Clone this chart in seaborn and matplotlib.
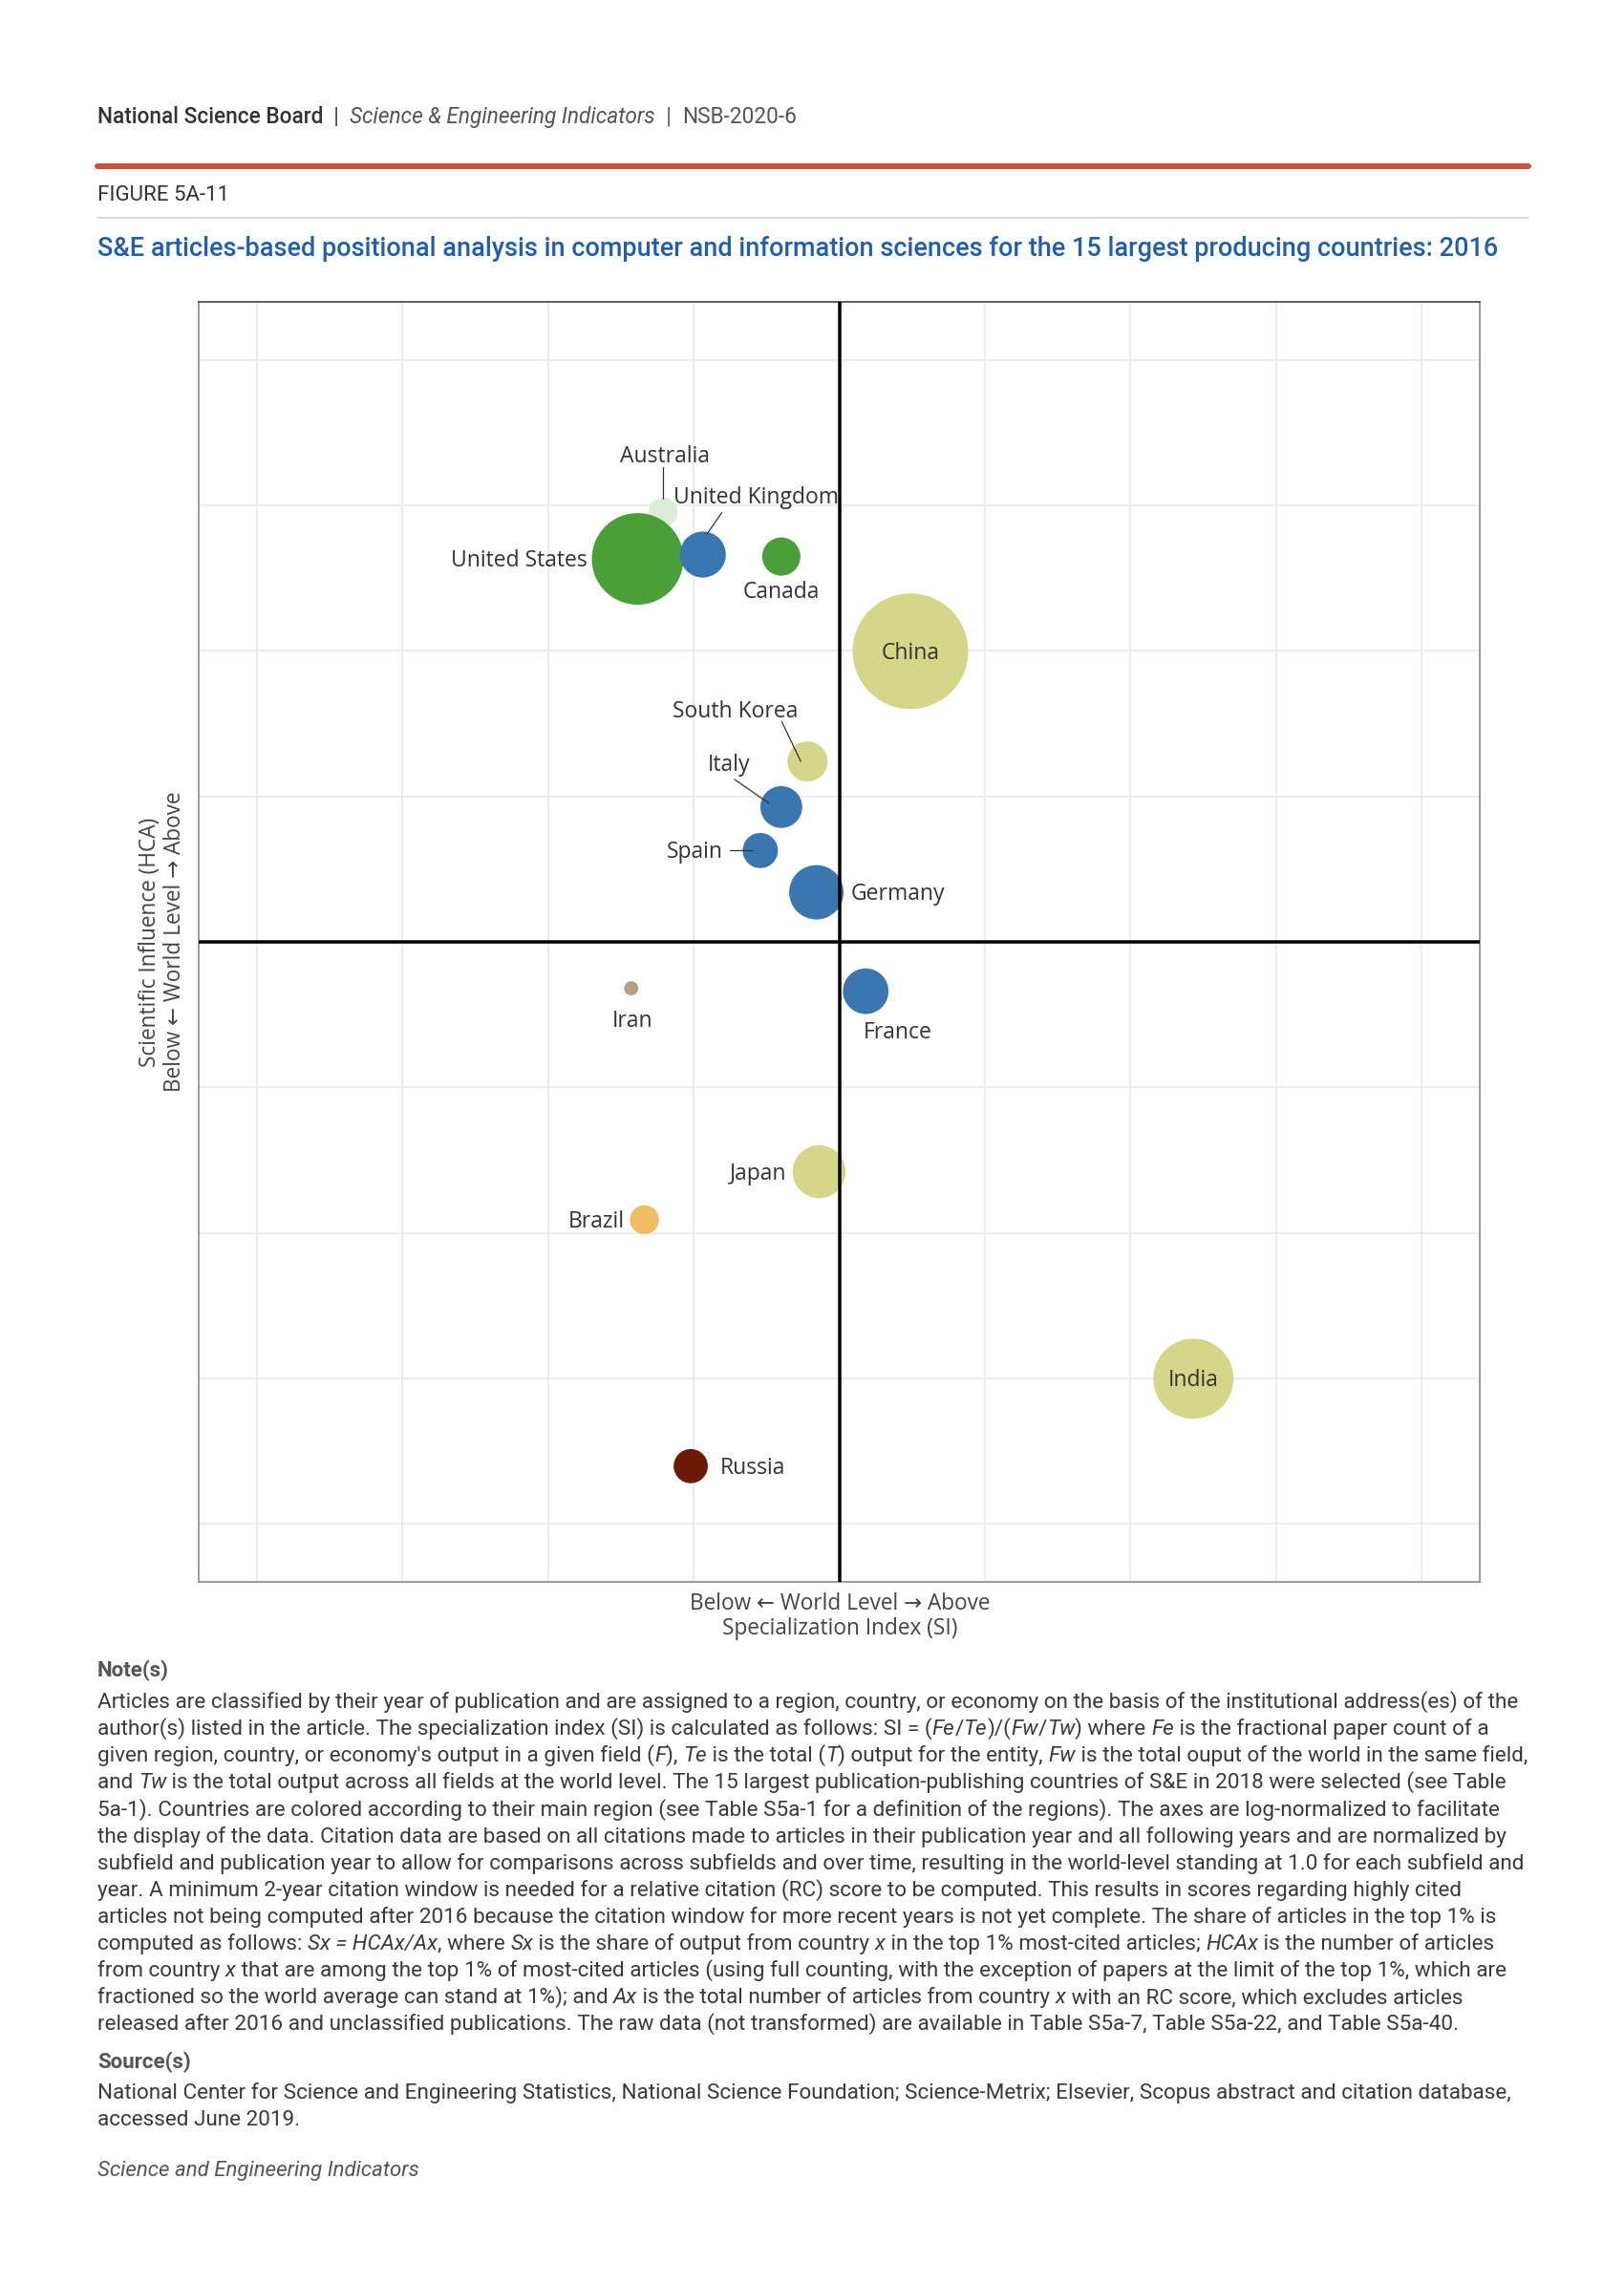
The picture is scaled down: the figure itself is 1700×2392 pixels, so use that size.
import numpy as np
import pandas as pd
import seaborn as sns
import matplotlib.pyplot as plt

sns.set_theme(style="white")
plt.rcParams["font.family"] = ["Open Sans", "DejaVu Sans"]

W, H, DPI = 1700, 2392, 100

# ---- data ----
countries = ["Australia", "United States", "United Kingdom", "Canada", "China",
             "South Korea", "Italy", "Spain", "Germany", "Iran", "France",
             "Japan", "Brazil", "Russia", "India"]
regions = ["Australia", "North America", "Europe", "North America", "Asia",
           "Asia", "Europe", "Europe", "Europe", "Middle East", "Europe",
           "Asia", "South America", "Russia", "Asia"]
# log-normalized specialization index (x) and scientific influence (y)
si = [-1.21, -1.385, -0.937, -0.398, 0.489, -0.218, -0.398, -0.542, -0.157,
      -1.429, 0.182, -0.138, -1.338, -1.02, 2.433]
hca = [2.955, 2.633, 2.663, 2.649, 1.998, 1.24, 0.927, 0.628, 0.341,
       -0.319, -0.339, -1.58, -1.91, -3.604, -3.003]
# bubble size ~ article output (relative)
articles = [2.3, 23.0, 5.8, 4.0, 36.6, 4.4, 4.8, 3.4, 8.1, 0.55, 5.7, 7.7,
            2.3, 3.2, 17.6]

region_colors = {
    "North America": "#4b9f38",
    "Europe": "#3a76b0",
    "Asia": "#d4d78a",
    "Australia": "#dbecd8",
    "Middle East": "#b5a082",
    "South America": "#f0bc62",
    "Russia": "#6b1a06",
}

df = pd.DataFrame({"country": countries, "region": regions, "si": si,
                   "hca": hca, "articles": articles})

# label placement: (dx px, dy px, ha, connector start px, connector end px)
label_layout = {
    "Australia": (2, -60, "center", (0, -47), (0, -14)),
    "United Kingdom": (56, -62, "center", (20, -44), (4, -21)),
    "United States": (-53, 0, "right", None, None),
    "Canada": (0, 35, "center", None, None),
    "China": (0, 0, "center", None, None),
    "South Korea": (-76, -54, "center", (-27, -42), (-7, 0)),
    "Italy": (-55, -46, "center", (-49, -29), (-13, -4)),
    "Spain": (-39, 0, "right", (-32, 0), (-9, 0)),
    "Germany": (36, 0, "left", None, None),
    "Iran": (1, 32, "center", None, None),
    "France": (33, 41, "center", None, None),
    "Japan": (-34, 0, "right", None, None),
    "Brazil": (-21, 0, "right", None, None),
    "Russia": (31, 0, "left", None, None),
    "India": (0, 0, "center", None, None),
}

notes = [
    "Articles are classified by their year of publication and are assigned to a region, country, or economy on the basis of the institutional address(es) of the",
    "author(s) listed in the article. The specialization index (SI) is calculated as follows: SI = (*Fe*/*Te*)/(*Fw*/*Tw*) where *Fe* is the fractional paper count of a",
    "given region, country, or economy's output in a given field (*F*), *Te* is the total (*T*) output for the entity, *Fw* is the total ouput of the world in the same field,",
    "and *Tw* is the total output across all fields at the world level. The 15 largest publication-publishing countries of S&E in 2018 were selected (see Table",
    "5a-1). Countries are colored according to their main region (see Table S5a-1 for a definition of the regions). The axes are log-normalized to facilitate",
    "the display of the data. Citation data are based on all citations made to articles in their publication year and all following years and are normalized by",
    "subfield and publication year to allow for comparisons across subfields and over time, resulting in the world-level standing at 1.0 for each subfield and",
    "year. A minimum 2-year citation window is needed for a relative citation (RC) score to be computed. This results in scores regarding highly cited",
    "articles not being computed after 2016 because the citation window for more recent years is not yet complete. The share of articles in the top 1% is",
    "computed as follows: *Sx = HCAx/Ax*, where *Sx* is the share of output from country *x* in the top 1% most-cited articles; *HCAx* is the number of articles",
    "from country *x* that are among the top 1% of most-cited articles (using full counting, with the exception of papers at the limit of the top 1%, which are",
    "fractioned so the world average can stand at 1%); and *Ax* is the total number of articles from country *x* with an RC score, which excludes articles",
    "released after 2016 and unclassified publications. The raw data (not transformed) are available in Table S5a-7, Table S5a-22, and Table S5a-40.",
]
sources = [
    "National Center for Science and Engineering Statistics, National Science Foundation; Science-Metrix; Elsevier, Scopus abstract and citation database,",
    "accessed June 2019.",
]

# ---- figure ----
fig = plt.figure(figsize=(W / DPI, H / DPI), dpi=DPI)
renderer = fig.canvas.get_renderer()
ax = fig.add_axes([208 / W, 1 - 1656 / H, (1549 - 208) / W, (1656 - 316) / H])

LIM = 4.4
ax.set_xlim(-LIM, LIM)
ax.set_ylim(-LIM, LIM)
ax.set_xticks(range(-4, 5))
ax.set_yticks(range(-4, 5))
ax.grid(True, color="#ececec", lw=1.5)
ax.set_axisbelow(True)
ax.tick_params(length=0, labelbottom=False, labelleft=False)
for side, sp in ax.spines.items():
    sp.set_color("#444444" if side == "top" else "#8a8a8a")
    sp.set_linewidth(1.2)

# pixel -> data unit conversion
px_per_unit = (1549 - 208) / (2 * LIM)
pt_per_px = 72 / DPI

# bubble area proportional to output; largest bubble radius ~60.5 px
vmin, vmax = min(articles), max(articles)
k = (2 * 60.5 * pt_per_px) ** 2 / vmax
sns.scatterplot(data=df, x="si", y="hca", hue="region", palette=region_colors,
                size="articles", sizes=(k * vmin, k * vmax),
                size_norm=(vmin, vmax), legend=False, linewidth=0, alpha=1,
                ax=ax, zorder=2)
ax.set_xlabel("")
ax.set_ylabel("")

ax.axvline(0, color="black", lw=3.5 * pt_per_px, zorder=3)
ax.axhline(0, color="black", lw=3.5 * pt_per_px, zorder=3)

for _, row in df.iterrows():
    dx, dy, ha, c0, c1 = label_layout[row.country]
    ax.text(row.si + dx / px_per_unit, row.hca - (dy + 2) / px_per_unit,
            row.country, ha=ha, va="center", fontsize=16.5, color="#333333",
            zorder=4)
    if c0 is not None:
        ax.plot([row.si + c0[0] / px_per_unit, row.si + c1[0] / px_per_unit],
                [row.hca - c0[1] / px_per_unit, row.hca - c1[1] / px_per_unit],
                color="#333333", lw=0.9, zorder=4)

# axis titles
fig.text(879 / W, 1 - 1692 / H,
         "Below \u2190 World Level \u2192 Above\nSpecialization Index (SI)",
         fontsize=16.3, color="#444444", linespacing=1.1, ha="center", va="center")
fig.text(170 / W, 1 - 986 / H,
         "Scientific Influence (HCA)\nBelow \u2190 World Level \u2192 Above",
         fontsize=16.3, color="#444444", linespacing=1.1, ha="center",
         va="center", rotation=90)


# ---- header / notes (figure text in pixel coordinates) ----
def text_width(t):
    s = t.get_text()
    t.set_text(s + "|")
    w1 = t.get_window_extent(renderer).width
    t.set_text("|")
    w2 = t.get_window_extent(renderer).width
    t.set_text(s)
    return w1 - w2


def draw_segments(x_px, y_px, segments, size, family="Roboto"):
    x = x_px
    for txt, kw in segments:
        if not txt:
            continue
        t = fig.text(x / W, 1 - y_px / H, txt, fontsize=size, family=family,
                     ha="left", va="baseline", **kw)
        x += text_width(t)


def draw_markup(x_px, y_px, line, size, color):
    parts = line.split("*")
    segs = [(p, {"style": "italic" if i % 2 else "normal", "color": color})
            for i, p in enumerate(parts)]
    draw_segments(x_px, y_px, segs, size)


LEFT = 102
RIGHT = 1600
draw_segments(LEFT, 129, [
    ("National Science Board", {"weight": "medium", "color": "#333333"}),
    ("  |  ", {"weight": "bold", "color": "#555555"}),
    ("Science & Engineering Indicators", {"style": "italic", "color": "#555555"}),
    ("  |  ", {"color": "#555555"}),
    ("NSB-2020-6", {"color": "#555555"}),
], 16.3)

fig.add_artist(plt.Line2D([LEFT / W, RIGHT / W], [1 - 174 / H] * 2,
                          color="#c8523b", lw=6 * pt_per_px))
fig.text(LEFT / W, 1 - 210 / H, "FIGURE 5A-11", fontsize=16, family="Roboto",
         color="#333333", va="baseline")
fig.add_artist(plt.Line2D([LEFT / W, RIGHT / W], [1 - 228 / H] * 2,
                          color="#d9d9d9", lw=2 * pt_per_px))
fig.text(LEFT / W, 1 - 268 / H,
         "S&E articles-based positional analysis in computer and information sciences for the 15 largest producing countries: 2016",
         fontsize=19.5, family="Roboto", weight="medium", color="#2160a8",
         va="baseline")

fig.text(LEFT / W, 1 - 1755 / H, "Note(s)", fontsize=16, family="Roboto",
         weight="bold", color="#555555", va="baseline")
for i, line in enumerate(notes):
    draw_markup(LEFT, 1788 + i * 28.1, line, 16.2, "#3a3a3a")

fig.text(LEFT / W, 1 - 2165 / H, "Source(s)", fontsize=16, family="Roboto",
         weight="bold", color="#555555", va="baseline")
for i, line in enumerate(sources):
    draw_markup(LEFT, 2197 + i * 28.1, line, 16.2, "#3a3a3a")

fig.text(LEFT / W, 1 - 2278 / H, "Science and Engineering Indicators",
         fontsize=16, family="Roboto", style="italic", color="#555555",
         va="baseline")

fig.savefig("out.png", dpi=DPI)
